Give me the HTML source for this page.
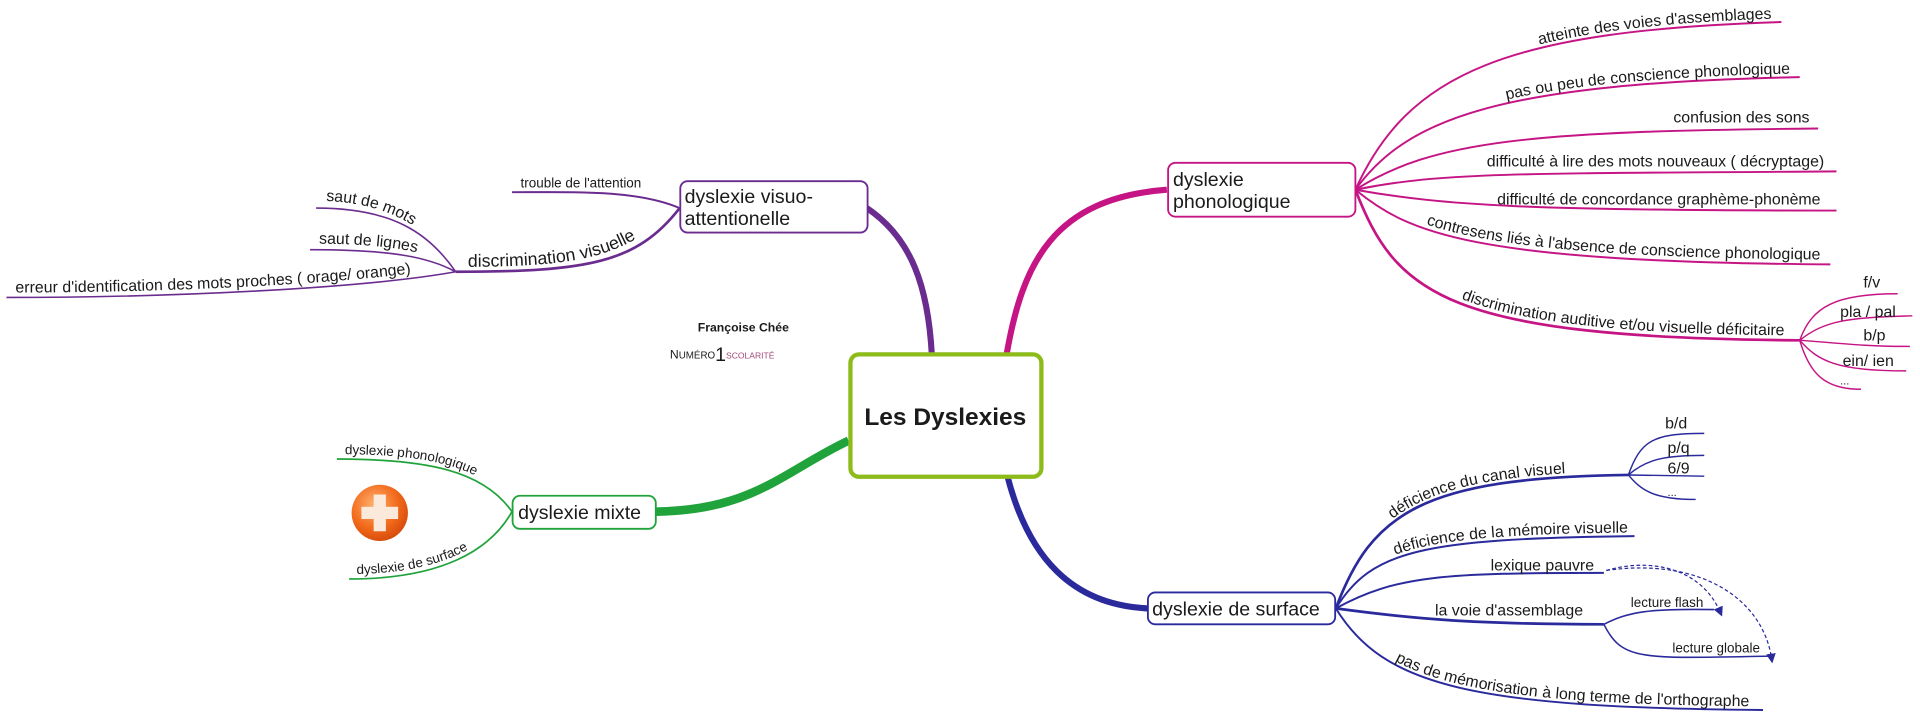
<!DOCTYPE html>
<html><head><meta charset="utf-8"><style>
html,body{margin:0;padding:0;background:#fff;width:1920px;height:721px;overflow:hidden}
svg{display:block}
text{font-family:"Liberation Sans",Arial,sans-serif;fill:#1a1a1a}
</style></head><body>
<svg width="1920" height="721" viewBox="0 0 1568 589" xmlns="http://www.w3.org/2000/svg">
<defs>
<marker id="ar" markerWidth="8" markerHeight="8" refX="4" refY="4" orient="auto" markerUnits="userSpaceOnUse"><path d="M0,0 L8,4 L0,8 Z" fill="#2a2a9c"/></marker>
<radialGradient id="og" cx="40%" cy="35%" r="70%"><stop offset="0" stop-color="#ffb070"/><stop offset="0.6" stop-color="#f26a1b"/><stop offset="1" stop-color="#d4480a"/></radialGradient>
<path id="p1" d="M1107,152 C1150,57 1230,22 1455,15"/>
<path id="p2" d="M1107,152 C1150,92 1230,65 1470,60"/>
<path id="p6" d="M1107,151 C1150,186 1200,210 1495,212"/>
<path id="p7" d="M1107,151 C1140,236 1180,272 1470,274"/>
<path id="s1" d="M1091,494 C1120,417 1160,387 1330,385"/>
<path id="s2" d="M1091,494 C1120,447 1160,437 1335,435"/>
<path id="s5" d="M1091,494 C1130,557 1200,575 1440,577"/>
<path id="v2" d="M372,218 C470,218 515,212 555,164"/>
<path id="v3" d="M258,164 C315,164 350,186 372,218"/>
<path id="v4" d="M253,199 C320,199 350,206 372,218"/>
<path id="v5" d="M5,239 C150,239 300,231 372,218"/>
<path id="m1" d="M275,371 C350,371 395,381 418,414"/>
<path id="m2" d="M285,469 C360,469 400,446 418,414"/>
</defs>

<!-- main connectors -->
<g fill="none" stroke-linecap="butt">
<path d="M822,290 C835,215 860,162 953,155" stroke="#c51585" stroke-width="5"/>
<path d="M761,290 C758,235 745,195 708,170" stroke="#6b2c8f" stroke-width="5"/>
<path d="M823,390 C840,455 875,494 937,497" stroke="#2a2a9c" stroke-width="5"/>
<path d="M693,360 C640,385 615,417 535,418" stroke="#21a33c" stroke-width="7"/>
</g>

<!-- phonologique branches -->
<g fill="none" stroke="#c51585" stroke-width="1.6">
<path d="M1107,155 C1150,60 1230,25 1455,18"/>
<path d="M1107,155 C1150,95 1230,68 1470,63"/>
<path d="M1107,155 C1170,115 1250,107 1485,105"/>
<path d="M1107,155 C1180,140 1250,142 1500,140"/>
<path d="M1107,155 C1180,168 1250,172 1500,172"/>
<path d="M1107,155 C1150,190 1200,214 1495,216"/>
<path d="M1107,155 C1140,240 1180,276 1470,278" stroke-width="2.2"/>
<path d="M1470,278 C1480,250 1500,240 1550,240" stroke-width="1.2"/>
<path d="M1470,278 C1490,262 1510,259 1562,258" stroke-width="1.2"/>
<path d="M1470,278 C1500,280 1520,283 1560,283" stroke-width="1.2"/>
<path d="M1470,278 C1485,295 1500,303 1557,303" stroke-width="1.2"/>
<path d="M1470,278 C1478,305 1490,318 1520,318" stroke-width="1.2"/>
</g>
<g font-size="13">
<text><textPath href="#p1" startOffset="98%" text-anchor="end">atteinte des voies d'assemblages</textPath></text>
<text><textPath href="#p2" startOffset="98%" text-anchor="end">pas ou peu de conscience phonologique</textPath></text>
<text x="1478" y="100" text-anchor="end">confusion des sons</text>
<text x="1490" y="136" text-anchor="end">difficulté à lire des mots nouveaux ( décryptage)</text>
<text x="1487" y="167" text-anchor="end">difficulté de concordance graphème-phonème</text>
<text><textPath href="#p6" startOffset="98%" text-anchor="end">contresens liés à l'absence de conscience phonologique</textPath></text>
<text><textPath href="#p7" startOffset="97%" text-anchor="end">discrimination auditive et/ou visuelle déficitaire</textPath></text>
<text x="1522" y="235">f/v</text>
<text x="1503" y="259">pla / pal</text>
<text x="1522" y="278">b/p</text>
<text x="1505" y="299">ein/ ien</text>
<text x="1503" y="314" font-size="9">...</text>
</g>

<!-- surface branches -->
<g fill="none" stroke="#2a2a9c" stroke-width="1.6">
<path d="M1091,497 C1120,420 1160,390 1330,388" stroke-width="2.2"/>
<path d="M1091,497 C1120,450 1160,440 1335,438"/>
<path d="M1091,497 C1140,470 1180,468 1310,468"/>
<path d="M1091,497 C1150,505 1200,510 1310,510" stroke-width="2.2"/>
<path d="M1091,497 C1130,560 1200,578 1440,580"/>
<path d="M1330,388 C1340,360 1350,354 1392,354" stroke-width="1.2"/>
<path d="M1330,388 C1345,375 1360,372 1392,372" stroke-width="1.2"/>
<path d="M1330,388 L1392,389" stroke-width="1.2"/>
<path d="M1330,388 C1340,400 1350,408 1385,408" stroke-width="1.2"/>
<path d="M1310,510 C1330,500 1345,497 1400,498" stroke-width="1.3"/>
<path d="M1310,510 C1325,540 1340,538 1445,536" stroke-width="1.3"/>
<path d="M1312,466 C1350,455 1390,465 1405,500" stroke-width="1" stroke-dasharray="3,2" marker-end="url(#ar)"/>
<path d="M1312,466 C1390,455 1440,490 1447,538" stroke-width="1" stroke-dasharray="3,2" marker-end="url(#ar)"/>
</g>
<g font-size="13">
<text><textPath href="#s1" startOffset="82%" text-anchor="end">déficience du canal visuel</textPath></text>
<text><textPath href="#s2" startOffset="98%" text-anchor="end">déficience de la mémoire visuelle</textPath></text>
<text x="1302" y="466" text-anchor="end">lexique pauvre</text>
<text x="1293" y="503" text-anchor="end">la voie d'assemblage</text>
<text><textPath href="#s5" startOffset="97%" text-anchor="end">pas de mémorisation à long terme de l'orthographe</textPath></text>
<text x="1360" y="350">b/d</text>
<text x="1362" y="370">p/q</text>
<text x="1362" y="387">6/9</text>
<text x="1362" y="405" font-size="9">...</text>
<text x="1332" y="496" font-size="11">lecture flash</text>
<text x="1366" y="533" font-size="11">lecture globale</text>
</g>

<!-- visuo branches -->
<g fill="none" stroke="#6b2c8f" stroke-width="1.6">
<path d="M555,170 C520,155 470,157 418,157"/>
<path d="M555,170 C520,215 480,222 372,222" stroke-width="2.2"/>
<path d="M258,170 C320,170 350,190 372,222" stroke-width="1.3"/>
<path d="M253,204 C320,204 350,210 372,222" stroke-width="1.3"/>
<path d="M5,243 C150,243 300,235 372,222" stroke-width="1.3"/>
</g>
<text x="425" y="153" font-size="11">trouble de l'attention</text>
<text font-size="14.5"><textPath href="#v2" startOffset="5%">discrimination visuelle</textPath></text>
<text font-size="13"><textPath href="#v3" startOffset="6%">saut de mots</textPath></text>
<text font-size="13"><textPath href="#v4" startOffset="6%">saut de lignes</textPath></text>
<text font-size="13"><textPath href="#v5" startOffset="2%">erreur d'identification des mots proches ( orage/ orange)</textPath></text>

<!-- mixte branches -->
<g fill="none" stroke="#21a33c" stroke-width="1.4">
<path d="M275,375 C350,375 395,385 418,418"/>
<path d="M285,473 C360,473 400,450 418,418"/>
</g>
<text font-size="11"><textPath href="#m1" startOffset="4%">dyslexie phonologique</textPath></text>
<text font-size="11"><textPath href="#m2" startOffset="4%">dyslexie de surface</textPath></text>

<!-- icon -->
<circle cx="310" cy="419" r="23" fill="url(#og)"/>
<rect x="305" y="404" width="10" height="30" fill="#fbe9dc"/>
<rect x="295" y="414" width="30" height="10" fill="#fbe9dc"/>

<!-- author -->
<text x="607" y="271" font-size="10" font-weight="bold" text-anchor="middle" fill="#333">Françoise Chée</text>
<text x="547" y="293" font-size="10" fill="#2a7a90" font-family="Liberation Serif,serif">N<tspan font-size="8">UMÉRO</tspan><tspan font-size="16" dy="2">1</tspan><tspan font-size="7" fill="#a04878" dy="-2">SCOLARITÉ</tspan></text>

<!-- nodes -->
<rect x="694.5" y="289.5" width="156" height="100" rx="7" fill="#fff" stroke="#8cbb1a" stroke-width="3.5"/>
<text x="772" y="347" font-size="20" font-weight="bold" text-anchor="middle">Les Dyslexies</text>

<rect x="954" y="133" width="153" height="44" rx="6" fill="#fff" stroke="#c51585" stroke-width="1.5"/>
<text x="958" y="152" font-size="16">dyslexie</text>
<text x="958" y="170" font-size="16">phonologique</text>

<rect x="555.5" y="148" width="153" height="42" rx="6" fill="#fff" stroke="#6b2c8f" stroke-width="1.5"/>
<text x="559" y="166" font-size="16">dyslexie visuo-</text>
<text x="559" y="184" font-size="16">attentionelle</text>

<rect x="937.5" y="484" width="153" height="26" rx="6" fill="#fff" stroke="#2a2a9c" stroke-width="1.5"/>
<text x="941" y="503" font-size="16">dyslexie de surface</text>

<rect x="418.5" y="405" width="117" height="27" rx="6" fill="#fff" stroke="#21a33c" stroke-width="1.5"/>
<text x="423" y="424" font-size="16">dyslexie mixte</text>
</svg>
</body></html>
